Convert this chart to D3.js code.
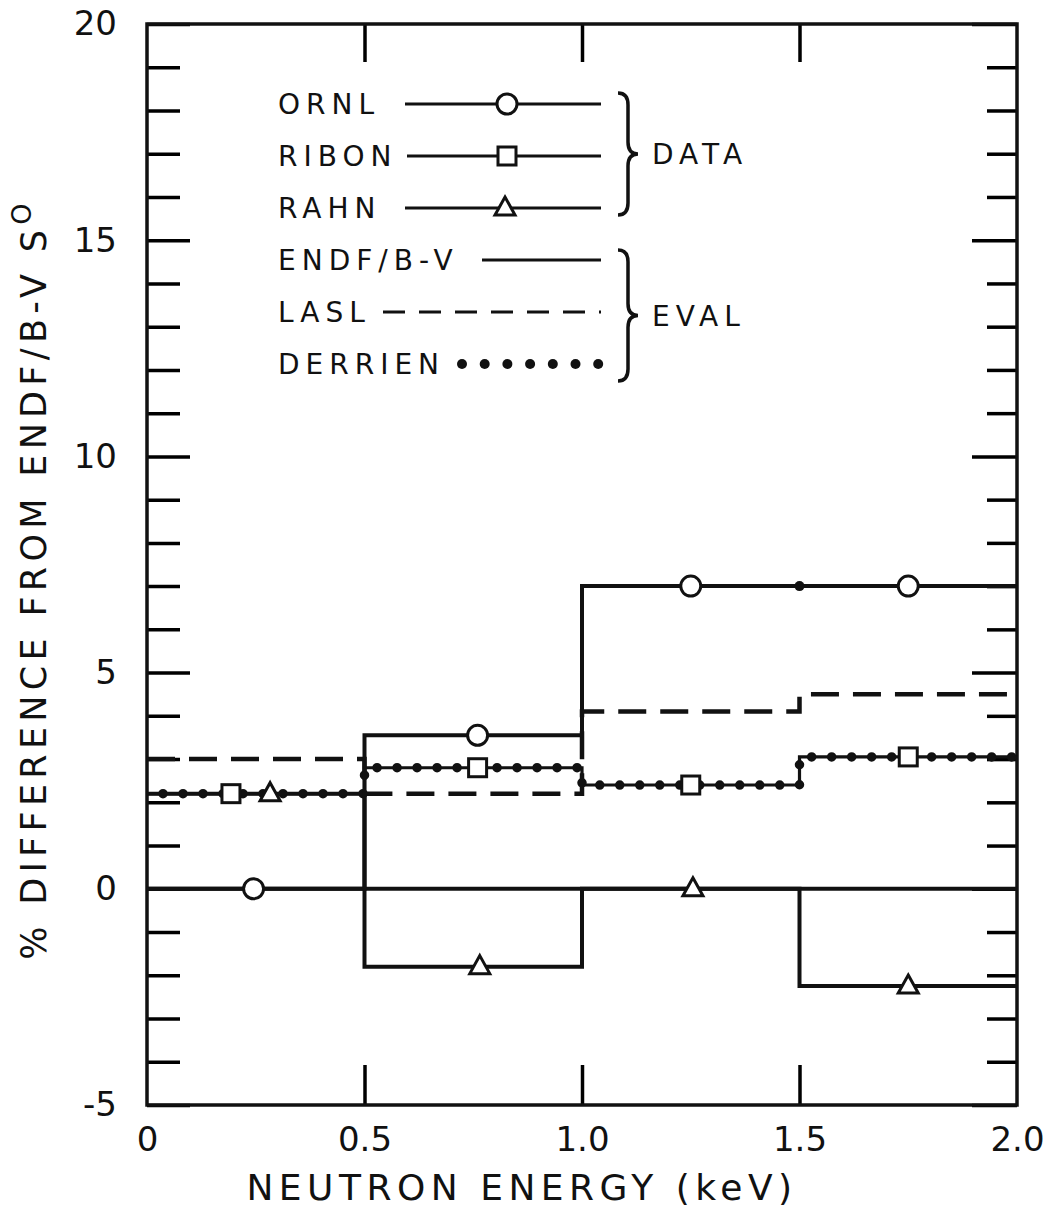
<!DOCTYPE html>
<html>
<head>
<meta charset="utf-8">
<script src="https://cdn.jsdelivr.net/npm/d3@7"></script>
<style>
  body { margin: 0; background: #fff; }
  text { font-family: "DejaVu Sans", sans-serif; fill: #111; }
</style>
</head>
<body>
<div id="chart"></div>
<script>
// energy bins (keV) and the % difference in each bin
const binEdges = [0, 0.5, 1.0, 1.5, 2.0];
const ornl = [0, 3.55, 7.0, 7.0];
const ornlX = [0.245, 0.76, 1.25, 1.75];
const ribon = [2.2, 2.8, 2.4, 3.05];
const ribonX = [0.193, 0.76, 1.25, 1.75];
const rahn = [2.2, -1.8, 0, -2.25];
const rahnX = [0.283, 0.765, 1.255, 1.75];
const endf = [0, 0, 0, 0];
const lasl = [3.0, 2.2, 4.1, 4.5];
const derrien = [2.2, 2.8, 2.4, 3.05];

const yTicks = d3.range(-5, 21);
const xTicks = [0, 0.5, 1.0, 1.5, 2.0];
const legendNames = ["ORNL", "RIBON", "RAHN", "ENDF/B-V", "LASL", "DERRIEN"];

const width = 1046,
  height = 1215,
  margin = { top: 24, right: 29, bottom: 110, left: 147 };

const svg = d3
  .select("#chart")
  .append("svg")
  .attr("width", width)
  .attr("height", height)
  .attr("viewBox", [0, 0, width, height]);

let x = d3
  .scaleLinear()
  .domain([0, 2])
  .range([margin.left, width - margin.right]);

let y = d3
  .scaleLinear()
  .domain([-5, 20])
  .range([height - margin.bottom, margin.top]);

// left axis: ticks every 1, longer and labelled every 5
let gl = svg
  .append("g")
  .attr("transform", `translate(${margin.left},0)`)
  .call(
    d3
      .axisLeft(y)
      .tickValues(yTicks)
      .tickSize(-33)
      .tickPadding(30)
      .tickFormat((d) => (d % 5 === 0 ? String(d) : ""))
  );
gl.select(".domain").remove();
gl.selectAll(".tick line")
  .attr("x2", (d) => (d % 5 === 0 ? 43 : 33))
  .attr("stroke-width", 3.5);
gl.selectAll(".tick text").attr("font-size", 34).attr("font-family", "DejaVu Sans");

// right axis, ticks only
let gr = svg
  .append("g")
  .attr("transform", `translate(${width - margin.right},0)`)
  .call(d3.axisRight(y).tickValues(yTicks).tickSize(-30).tickFormat(""));
gr.select(".domain").remove();
gr.selectAll(".tick line")
  .attr("x2", (d) => (d % 5 === 0 ? -45 : -30))
  .attr("stroke-width", 3.5);

// top axis
let gt = svg
  .append("g")
  .attr("transform", `translate(0,${margin.top})`)
  .call(d3.axisTop(x).tickValues([0.5, 1.0, 1.5]).tickSize(-38).tickFormat(""));
gt.select(".domain").remove();
gt.selectAll(".tick line").attr("stroke-width", 3.5);

// bottom axis
let gb = svg
  .append("g")
  .attr("transform", `translate(0,${height - margin.bottom})`)
  .call(
    d3
      .axisBottom(x)
      .tickValues(xTicks)
      .tickSize(-40)
      .tickPadding(22)
      .tickFormat((d) => (d === 0 ? "0" : d3.format(".1f")(d)))
  );
gb.select(".domain").remove();
gb.selectAll(".tick line")
  .attr("stroke-width", 3.5)
  .attr("opacity", (d) => (d === 0 || d === 2 ? 0 : 1));
gb.selectAll(".tick text").attr("font-size", 34).attr("font-family", "DejaVu Sans");

// frame
svg
  .append("rect")
  .attr("x", x(0))
  .attr("y", y(20))
  .attr("width", x(2) - x(0))
  .attr("height", y(-5) - y(20))
  .attr("fill", "none")
  .attr("stroke", "#111")
  .attr("stroke-width", 3.5);

// step line through bins
function stepPoints(vals) {
  let pts = vals.map((v, i) => [binEdges[i], v]);
  pts.push([binEdges[binEdges.length - 1], vals[vals.length - 1]]);
  return pts;
}
let line = d3
  .line()
  .curve(d3.curveStepAfter)
  .x((d) => x(d[0]))
  .y((d) => y(d[1]));

function drawStep(vals, dash, w) {
  return svg
    .append("path")
    .datum(stepPoints(vals))
    .attr("d", line)
    .attr("fill", "none")
    .attr("stroke", "#111")
    .attr("stroke-width", w)
    .attr("stroke-dasharray", dash);
}

drawStep(endf, null, 4);
drawStep(lasl, "28 14", 4.5);
drawStep(ribon, null, 3.2);
drawStep(derrien, "0 20", 9.5)
  .attr("stroke-linecap", "round")
  .attr("stroke-dashoffset", 4);
drawStep(rahn, null, 4);
drawStep(ornl, null, 4);

// small dot where the ORNL line carries over a bin edge at the same level
svg
  .append("g")
  .selectAll("circle")
  .data(
    ornl
      .slice(1)
      .map((v, i) => ({ e: binEdges[i + 1], v, same: v === ornl[i] }))
      .filter((d) => d.same)
  )
  .join("circle")
  .attr("cx", (d) => x(d.e))
  .attr("cy", (d) => y(d.v))
  .attr("r", 5)
  .attr("fill", "#111");

// markers
function circleMark(g, cx, cy) {
  g.append("circle").attr("cx", cx).attr("cy", cy).attr("r", 10)
    .attr("fill", "#fff").attr("stroke", "#111").attr("stroke-width", 3);
}
function squareMark(g, cx, cy) {
  g.append("rect").attr("x", cx - 9).attr("y", cy - 9).attr("width", 18).attr("height", 18)
    .attr("fill", "#fff").attr("stroke", "#111").attr("stroke-width", 3);
}
function triMark(g, cx, cy) {
  g.append("path")
    .attr("d", `M${cx},${cy - 11}L${cx + 10},${cy + 7}L${cx - 10},${cy + 7}Z`)
    .attr("fill", "#fff").attr("stroke", "#111").attr("stroke-width", 3);
}

let marks = svg.append("g");
ornl.forEach((v, i) => circleMark(marks, x(ornlX[i]), y(v)));
ribon.forEach((v, i) => squareMark(marks, x(ribonX[i]), y(v)));
rahn.forEach((v, i) => triMark(marks, x(rahnX[i]), y(v)));

// legend
let lg = svg.append("g").attr("class", "legend");
const rowY = (i) => 104 + i * 52;
const lineStart = [405, 407, 405, 482, 383, 462];
const lineEnd = 601;

legendNames.forEach((name, i) => {
  lg.append("text")
    .attr("x", 278)
    .attr("y", rowY(i))
    .attr("dy", "0.36em")
    .attr("font-size", 28)
    .attr("letter-spacing", 6)
    .text(name);

  if (i < 4) {
    lg.append("line")
      .attr("x1", lineStart[i]).attr("x2", lineEnd)
      .attr("y1", rowY(i)).attr("y2", rowY(i))
      .attr("stroke", "#111").attr("stroke-width", 3);
  } else if (i === 4) {
    lg.append("line")
      .attr("x1", lineStart[i]).attr("x2", lineEnd)
      .attr("y1", rowY(i)).attr("y2", rowY(i))
      .attr("stroke", "#111").attr("stroke-width", 3)
      .attr("stroke-dasharray", "22 14");
  } else {
    d3.range(7).forEach((k) => {
      lg.append("circle")
        .attr("cx", lineStart[i] + k * 22.7)
        .attr("cy", rowY(i))
        .attr("r", 5)
        .attr("fill", "#111");
    });
  }
});
circleMark(lg, 507, rowY(0));
squareMark(lg, 507, rowY(1));
triMark(lg, 505, rowY(2));

function brace(x0, y0, y1, label) {
  const ym = (y0 + y1) / 2, w = 20, r = 12;
  lg.append("path")
    .attr(
      "d",
      `M${x0},${y0}Q${x0 + w / 2},${y0} ${x0 + w / 2},${y0 + r}` +
        `L${x0 + w / 2},${ym - r}Q${x0 + w / 2},${ym} ${x0 + w},${ym}` +
        `Q${x0 + w / 2},${ym} ${x0 + w / 2},${ym + r}` +
        `L${x0 + w / 2},${y1 - r}Q${x0 + w / 2},${y1} ${x0},${y1}`
    )
    .attr("fill", "none")
    .attr("stroke", "#111")
    .attr("stroke-width", 3.5);
  lg.append("text")
    .attr("x", x0 + w + 14)
    .attr("y", ym)
    .attr("dy", "0.36em")
    .attr("font-size", 28)
    .attr("letter-spacing", 6)
    .text(label);
}
brace(618, 93, 215, "DATA");
brace(618, 250, 381, "EVAL");

// axis titles
svg
  .append("text")
  .attr("x", 522)
  .attr("y", 1200)
  .attr("text-anchor", "middle")
  .attr("font-size", 36)
  .attr("letter-spacing", 5.5)
  .text("NEUTRON ENERGY (keV)");

let yt = svg
  .append("text")
  .attr("transform", `translate(46,579) rotate(-90)`)
  .attr("text-anchor", "middle")
  .attr("font-size", 35)
  .attr("letter-spacing", 5.3);
yt.append("tspan").text("% DIFFERENCE FROM ENDF/B-V S");
yt.append("tspan").attr("dy", -15).attr("font-size", 27).text("O");
</script>
</body>
</html>
